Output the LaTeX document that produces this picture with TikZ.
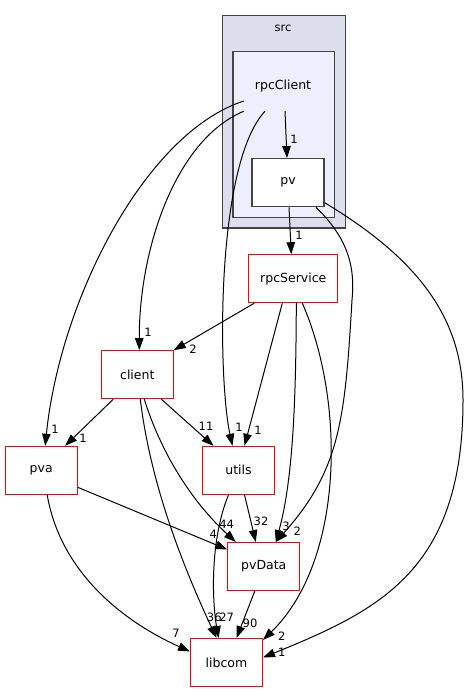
\documentclass[tikz,border=0pt]{standalone}
\usepackage{fontspec}
\setmainfont{DejaVu Sans}
\usetikzlibrary{arrows.meta}

\definecolor{srcfill}{HTML}{DDDDEE}
\definecolor{rpcfill}{HTML}{EEEEFF}
\definecolor{frame}{HTML}{444444}

\tikzset{
	dirbox/.style={draw=red, line width=1pt, fill=white, minimum width=72pt, minimum height=48pt, inner sep=0pt, font=\fontsize{12.5}{14}\selectfont},
	subdir/.style={dirbox, draw=frame, line width=1.3pt},
	dep/.style={line width=1pt, -{Triangle[length=12pt,width=8.5pt]}},
	elabel/.style={inner sep=0pt, font=\fontsize{11.5}{13}\selectfont}
}

\begin{document}
\begin{tikzpicture}[x=1pt, y=-1pt]
	
	\useasboundingbox (0,0) rectangle (469,692);
	
	% clusters
	\draw[fill=srcfill, draw=frame, line width=1.3pt] (222.7,15.7) rectangle (345.3,228);
	\node[font=\fontsize{11.5}{13}\selectfont] (src) at (283,28) {src};
	\draw[fill=rpcfill, draw=frame, line width=1.3pt] (233,51.7) rectangle (334.7,217.3);
	\node[minimum width=78pt, minimum height=50pt, inner sep=0pt, font=\fontsize{12.5}{14}\selectfont] (rpcClient) at (283,86) {rpcClient};
	
	% directories
	\node[subdir] (pv) at (288,182.7) {pv};
	\node[dirbox, minimum width=89pt] (rpcService) at (293.3,278.7) {rpcService};
	\node[dirbox] (client) at (137.3,374.7) {client};
	\node[dirbox] (pva) at (41.2,470.3) {pva};
	\node[dirbox] (utils) at (238.5,470.3) {utils};
	\node[dirbox] (pvData) at (263.8,566.5) {pvData};
	\node[dirbox] (libcom) at (226.5,662.5) {libcom};
	
	% rpcClient
	\draw[dep] ([xshift=2pt]rpcClient.south) -- ([xshift=-1pt]pv.north);
	\draw[dep] (rpcClient.south west) .. controls (175,140) and (139,250) .. ([xshift=2pt]client.north);
	\draw[dep] ([yshift=-15pt]rpcClient.west) .. controls (145,133) and (60,300) .. ([xshift=4pt]pva.north);
	\draw[dep] ([xshift=-18pt]rpcClient.south) .. controls (215,165) and (218,380) .. ([xshift=-6pt]utils.north);
	
	% pv
	\draw[dep] ([xshift=1pt]pv.south) -- ([xshift=-2pt]rpcService.north);
	\draw[dep] ([xshift=28pt]pv.south) .. controls (350,240) and (355,270) .. (352,300) .. controls (345,420) and (340,470) .. ([xshift=12pt]pvData.north);
	\draw[dep] ([yshift=-20pt]pv.east) .. controls (420,260) and (463,320) .. (463,400) .. controls (463,570) and (380,610) .. ([yshift=5pt]libcom.east);
	
	% rpcService
	\draw[dep] ([xshift=6pt]rpcService.south west) -- (client.north east);
	\draw[dep] ([xshift=-11pt]rpcService.south) -- ([xshift=6pt]utils.north);
	\draw[dep] ([xshift=3pt]rpcService.south) .. controls (296,400) and (293,480) .. ([xshift=12pt]pvData.north);
	\draw[dep] ([xshift=9pt]rpcService.south) .. controls (345,400) and (345,560) .. ([yshift=-2pt]libcom.north east);
	
	% client
	\draw[dep] ([xshift=-24pt]client.south) -- ([xshift=24pt]pva.north);
	\draw[dep] ([xshift=24pt]client.south) -- ([xshift=-25pt]utils.north);
	\draw[dep] ([xshift=7pt]client.south) .. controls (160,450) and (190,500) .. ([xshift=-28pt]pvData.north);
	\draw[dep] ([xshift=3pt]client.south) .. controls (150,480) and (180,560) .. ([xshift=-10pt]libcom.north);
	
	% pva, utils, pvData
	\draw[dep] ([yshift=-17pt]pva.east) -- ([yshift=17pt]pvData.west);
	\draw[dep] ([xshift=6pt]pva.south) .. controls (60,570) and (120,620) .. ([yshift=11pt]libcom.west);
	\draw[dep] ([xshift=6pt]utils.south) -- ([xshift=-8pt]pvData.north);
	\draw[dep] ([xshift=-10pt]utils.south) .. controls (210,540) and (212,600) .. ([xshift=-8pt]libcom.north);
	\draw[dep] ([xshift=-9pt]pvData.south) -- ([xshift=10pt]libcom.north);
	
	% edge counts
	\foreach \n/\x/\y/\t in {a/294/139/1, b/148/332/1, c/55/429/1, d/239/427/1,
		e/299/235/1, f/297.3/531/2, g/281.7/652.7/1,
		h/193/349/2, i/258/430.7/1, j/286/526/3, k/281.7/636.7/2,
		l/83/438.7/1, m/206/426.7/11, n/226.7/524/44, o/214.3/617.7/36,
		p/213.3/534.3/4, q/176/633/7, r/261/521.7/32, s/226.7/617/27, t/250/623.3/90}
		\node[elabel] (lab\n) at (\x,\y) {\t};
	
\end{tikzpicture}
\end{document}
